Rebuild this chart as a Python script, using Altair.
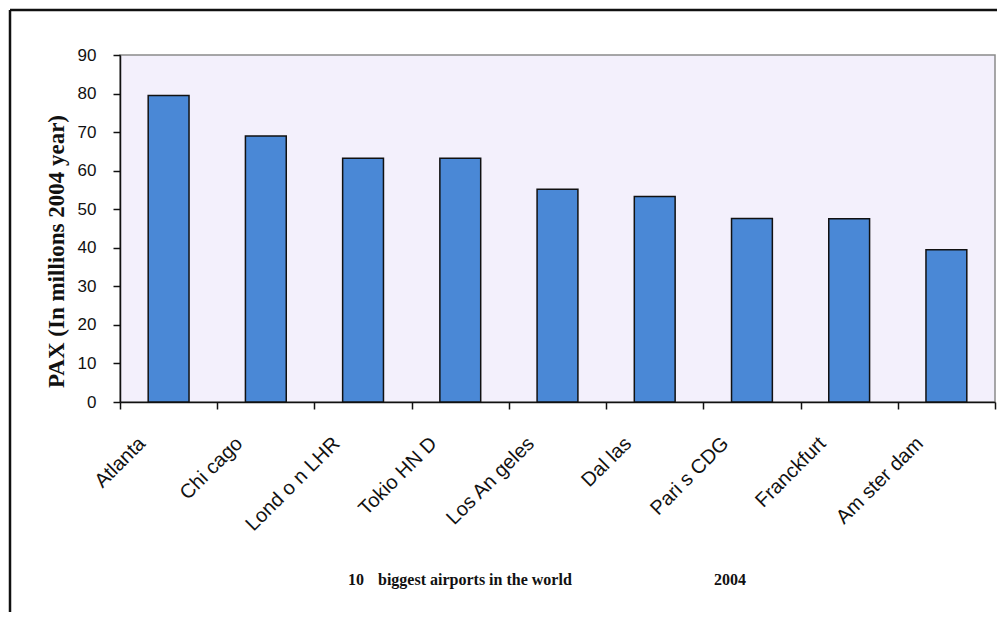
import altair as alt
import pandas as pd

airports = ["Atlanta", "Chi cago", "Lond o n LHR", "Tokio HN D", "Los  An geles",
            "Dal las", "Pari s  CDG", "Franckfurt", "Am ster dam"]
pax = [79.5, 69.0, 63.2, 63.2, 55.2, 53.3, 47.6, 47.5, 39.5]

caption_parts = ["10", "biggest airports in the world", "2004"]
caption_x = [228, 258, 594]
y_title = "PAX (In millions 2004 year)"

df = pd.DataFrame({"airport": airports, "pax": pax})

W, H = 875, 347

bars = alt.Chart(df).mark_bar(
    color="#4A88D6", stroke="#111111", strokeWidth=1.5,
    width=alt.RelativeBandSize(0.42)
).encode(
    x=alt.X("airport:N", sort=airports,
            scale=alt.Scale(paddingInner=0, paddingOuter=0),
            axis=alt.Axis(title=None, labelAngle=-45, labelFontSize=20,
                          labelFont="Liberation Sans", labelColor="#111111",
                          tickBand="extent", tickSize=7, tickColor="#111111",
                          tickWidth=1.5, domainColor="#111111", domainWidth=1.5,
                          labelPadding=24, labelOffset=-34)),
    y=alt.Y("pax:Q", scale=alt.Scale(domain=[0, 90], nice=False),
            axis=alt.Axis(title=y_title, values=list(range(0, 91, 10)),
                          grid=False, labelFontSize=17, labelFont="Liberation Sans",
                          labelColor="#111111", tickSize=7, tickColor="#111111",
                          tickWidth=1.5, domainColor="#111111", domainWidth=1.5,
                          labelPadding=17, titleFont="Liberation Serif",
                          titleFontSize=23, titleFontWeight="bold",
                          titleColor="#111111", titleX=-64, titleY=196,
                          titleBaseline="middle", titleAlign="center")),
)

cap = pd.DataFrame({"t": caption_parts, "px": caption_x})
captions = alt.Chart(cap).mark_text(
    font="Liberation Serif", fontSize=16, fontWeight="bold", align="left",
    baseline="alphabetic", color="#111111"
).encode(text="t:N", x=alt.X("px:Q", scale=None), y=alt.value(530))

frame_df = pd.DataFrame({"k": [0]})
frame_left = alt.Chart(frame_df).mark_rule(color="#111111", strokeWidth=2.5).encode(
    x=alt.value(-110), y=alt.value(-45), y2=alt.value(580))
frame_top = alt.Chart(frame_df).mark_rule(color="#111111", strokeWidth=2.5).encode(
    x=alt.value(-110), x2=alt.value(W + 10), y=alt.value(-45))

chart = alt.layer(bars, captions, frame_left, frame_top).properties(
    width=W, height=H,
    autosize=alt.AutoSizeParams(type="none"),
    padding={"left": 112, "top": 47, "right": 2, "bottom": 210},
    background="white",
).configure_view(fill="#F3F0FC", stroke="#8A8A8A", strokeWidth=1.5)

chart.save("out.html", embed_options={"renderer": "svg", "actions": False})
